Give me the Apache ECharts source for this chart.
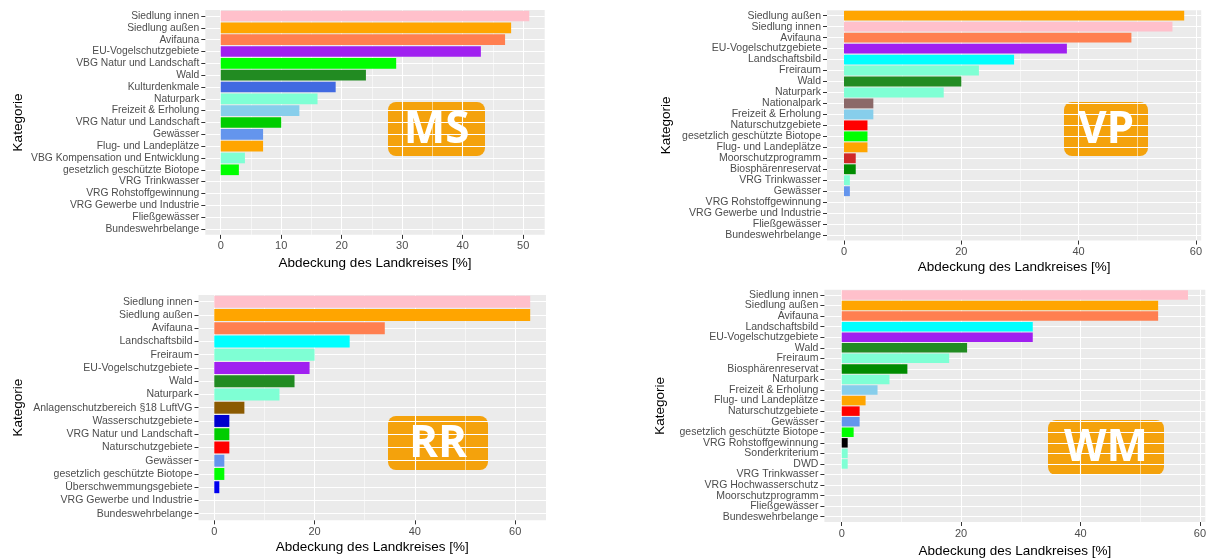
<!DOCTYPE html>
<html>
<head>
<meta charset="utf-8">
<script src="https://cdn.jsdelivr.net/npm/echarts@6/dist/echarts.min.js"></script>
<style>
  html, body { margin: 0; padding: 0; background: #fff; }
  #chart { width: 1216px; height: 560px; }
</style>
</head>
<body>
<div id="chart"></div>
<script>
// ---- data ----
const msCategories = ["Siedlung innen", "Siedlung außen", "Avifauna", "EU-Vogelschutzgebiete", "VBG Natur und Landschaft", "Wald", "Kulturdenkmale", "Naturpark", "Freizeit & Erholung", "VRG Natur und Landschaft", "Gewässer", "Flug- und Landeplätze", "VBG Kompensation und Entwicklung", "gesetzlich geschützte Biotope", "VRG Trinkwasser", "VRG Rohstoffgewinnung", "VRG Gewerbe und Industrie", "Fließgewässer", "Bundeswehrbelange"];
const msValues = [51, 48, 47, 43, 29, 24, 19, 16, 13, 10, 7, 7, 4, 3, 0, 0, 0, 0, 0];

const vpCategories = ["Siedlung außen", "Siedlung innen", "Avifauna", "EU-Vogelschutzgebiete", "Landschaftsbild", "Freiraum", "Wald", "Naturpark", "Nationalpark", "Freizeit & Erholung", "Naturschutzgebiete", "gesetzlich geschützte Biotope", "Flug- und Landeplätze", "Moorschutzprogramm", "Biosphärenreservat", "VRG Trinkwasser", "Gewässer", "VRG Rohstoffgewinnung", "VRG Gewerbe und Industrie", "Fließgewässer", "Bundeswehrbelange"];
const vpValues = [58, 56, 49, 38, 29, 23, 20, 17, 5, 5, 4, 4, 4, 2, 2, 1, 1, 0, 0, 0, 0];

const rrCategories = ["Siedlung innen", "Siedlung außen", "Avifauna", "Landschaftsbild", "Freiraum", "EU-Vogelschutzgebiete", "Wald", "Naturpark", "Anlagenschutzbereich §18 LuftVG", "Wasserschutzgebiete", "VRG Natur und Landschaft", "Naturschutzgebiete", "Gewässer", "gesetzlich geschützte Biotope", "Überschwemmungsgebiete", "VRG Gewerbe und Industrie", "Bundeswehrbelange"];
const rrValues = [63, 63, 34, 27, 20, 19, 16, 13, 6, 3, 3, 3, 2, 2, 1, 0, 0];

const wmCategories = ["Siedlung innen", "Siedlung außen", "Avifauna", "Landschaftsbild", "EU-Vogelschutzgebiete", "Wald", "Freiraum", "Biosphärenreservat", "Naturpark", "Freizeit & Erholung", "Flug- und Landeplätze", "Naturschutzgebiete", "Gewässer", "gesetzlich geschützte Biotope", "VRG Rohstoffgewinnung", "Sonderkriterium", "DWD", "VRG Trinkwasser", "VRG Hochwasserschutz", "Moorschutzprogramm", "Fließgewässer", "Bundeswehrbelange"];
const wmValues = [58, 53, 53, 32, 32, 21, 18, 11, 8, 6, 4, 3, 3, 2, 1, 1, 1, 0, 0, 0, 0, 0];

const msTicks = [0, 10, 20, 30, 40, 50];
const msMinor = [5, 15, 25, 35, 45];
const bigTicks = [0, 20, 40, 60];
const bigMinor = [10, 30, 50];

// ---- colours per bar ----
const C = {
  pink: "#FFC0CB", orange: "#FFA500", coral: "#FF7F50", purple: "#A020F0",
  lime: "#00FF00", forest: "#228B22", royal: "#4169E1", aqua: "#7FFFD4",
  sky: "#87CEEB", green3: "#00CD00", corn: "#6495ED", cyan: "#00FFFF",
  rosy: "#8B6969", red: "#FF0000", fire: "#D02828", green4: "#008B00",
  brown: "#8B5A00", mblue: "#0000CD", blue: "#0000EE", black: "#000000"
};
const msColors = [C.pink, C.orange, C.coral, C.purple, C.lime, C.forest, C.royal, C.aqua, C.sky, C.green3, C.corn, C.orange, C.aqua, C.lime, C.aqua, C.aqua, C.aqua, C.aqua, C.aqua];
const vpColors = [C.orange, C.pink, C.coral, C.purple, C.cyan, C.aqua, C.forest, C.aqua, C.rosy, C.sky, C.red, C.lime, C.orange, C.fire, C.green4, C.aqua, C.corn, C.aqua, C.aqua, C.aqua, C.aqua];
const rrColors = [C.pink, C.orange, C.coral, C.cyan, C.aqua, C.purple, C.forest, C.aqua, C.brown, C.mblue, C.green3, C.red, C.corn, C.lime, C.blue, C.aqua, C.aqua];
const wmColors = [C.pink, C.orange, C.coral, C.cyan, C.purple, C.forest, C.aqua, C.green4, C.aqua, C.sky, C.orange, C.red, C.corn, C.lime, C.black, C.aqua, C.aqua, C.aqua, C.aqua, C.aqua, C.aqua, C.aqua];

// ---- panel layout (pixels) ----
const panels = [
  { tag: "MS", cats: msCategories, vals: msValues, colors: msColors, ticks: msTicks, minor: msMinor,
    min: -2.55, max: 53.55, left: 205.3, right: 544.7, top: 10.1, band: 11.83, labelSize: 10.3, nameGap: 21,
    katX: 18, box: [388, 102, 97, 54] },
  { tag: "VP", cats: vpCategories, vals: vpValues, colors: vpColors, ticks: bigTicks, minor: bigMinor,
    min: -2.9, max: 60.9, left: 827, right: 1201.2, top: 10.2, band: 10.97, labelSize: 10.5, nameGap: 19.5,
    katX: 666, box: [1064, 102, 84, 54] },
  { tag: "RR", cats: rrCategories, vals: rrValues, colors: rrColors, ticks: bigTicks, minor: bigMinor,
    min: -3.15, max: 66.15, left: 198.5, right: 546, top: 295.1, band: 13.25, labelSize: 10.5, nameGap: 19.5,
    katX: 18, box: [388, 416, 100, 54] },
  { tag: "WM", cats: wmCategories, vals: wmValues, colors: wmColors, ticks: bigTicks, minor: bigMinor,
    min: -2.9, max: 60.9, left: 824.4, right: 1205.3, top: 289.7, band: 10.56, labelSize: 10.5, nameGap: 22,
    katX: 660, box: [1048, 420, 116, 55] }
];

const FONT = "Liberation Sans, Arial, sans-serif";
const grid = [], xAxis = [], yAxis = [], series = [], graphic = [];

panels.forEach((p, i) => {
  const n = p.cats.length;
  const height = n * p.band;
  grid.push({
    left: p.left, top: p.top, width: p.right - p.left, height: height,
    show: true, backgroundColor: "#EBEBEB", borderWidth: 0
  });
  // value axis with labels
  xAxis.push({
    type: "value", gridIndex: i, min: p.min, max: p.max, position: "bottom",
    name: "Abdeckung des Landkreises [%]", nameLocation: "middle", nameGap: p.nameGap,
    nameTextStyle: { fontFamily: FONT, fontSize: 13.5, color: "#000" },
    axisLine: { show: false, onZero: false },
    axisTick: { show: true, length: 4, customValues: p.ticks, lineStyle: { color: "#333", width: 1 } },
    axisLabel: { customValues: p.ticks, margin: 6, fontFamily: FONT, fontSize: 11, color: "#4D4D4D" },
    splitLine: { show: true, lineStyle: { color: "#fff", width: 1.1 } }
  });
  // minor grid lines
  xAxis.push({
    type: "value", gridIndex: i, min: p.min, max: p.max, position: "bottom",
    axisLine: { show: false, onZero: false },
    axisTick: { show: false, customValues: p.minor },
    axisLabel: { show: false, customValues: p.minor },
    splitLine: { show: true, lineStyle: { color: "#fff", width: 0.55 } }
  });
  // category axis carrying the bars
  yAxis.push({
    type: "category", gridIndex: i, data: p.cats, inverse: true, position: "left",
    axisLine: { show: false, onZero: false },
    axisTick: { show: true, alignWithLabel: true, length: 4, lineStyle: { color: "#333", width: 1 } },
    axisLabel: { interval: 0, margin: 6, fontFamily: FONT, fontSize: p.labelSize, color: "#4D4D4D" },
    splitLine: { show: false }
  });
  // hidden helper axis: white lines through every category centre
  const centres = p.cats.map((c, k) => k);
  yAxis.push({
    type: "value", gridIndex: i, min: -0.5, max: n - 0.5, inverse: true, position: "left",
    axisLine: { show: false, onZero: false },
    axisTick: { show: false, customValues: centres },
    axisLabel: { show: false, customValues: centres },
    splitLine: { show: true, lineStyle: { color: "#fff", width: 1.1 } }
  });
  series.push({
    type: "bar", xAxisIndex: i * 2, yAxisIndex: i * 2,
    barCategoryGap: "10%",
    data: p.vals.map((v, k) => ({ value: v, itemStyle: { color: p.colors[k] } })),
    silent: true
  });
  graphic.push({
    type: "text", x: p.katX, y: p.top + height / 2, rotation: Math.PI / 2,
    style: { text: "Kategorie", fontFamily: FONT, fontSize: 13.5, fill: "#000", align: "center", verticalAlign: "middle" }
  });
  graphic.push({
    type: "group", left: p.box[0], top: p.box[1],
    children: [
      { type: "rect", shape: { x: 0, y: 0, width: p.box[2], height: p.box[3], r: 8 }, style: { fill: "#F4A20C" } },
      { type: "text", x: p.box[2] / 2, y: p.box[3] / 2 + 1,
        style: { text: p.tag, fontFamily: "Open Sans, sans-serif", fontWeight: "bold", fontSize: 44, fill: "#fff", align: "center", verticalAlign: "middle" } }
    ]
  });
});

const chart = echarts.init(document.getElementById("chart"));
chart.setOption({
  animation: false,
  backgroundColor: "#fff",
  grid: grid,
  xAxis: xAxis,
  yAxis: yAxis,
  series: series,
  graphic: graphic
});
</script>
</body>
</html>
